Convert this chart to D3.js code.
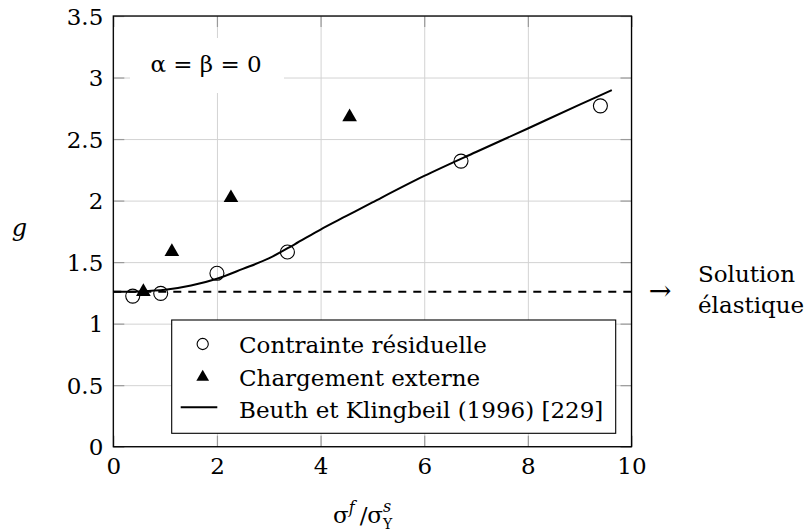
<!DOCTYPE html>
<html>
<head>
<meta charset="utf-8">
<script src="https://cdn.jsdelivr.net/npm/d3@7"></script>
<style>
  body { margin: 0; background: #fff; }
  svg { display: block; }
  text { font-family: "DejaVu Serif", serif; fill: #000; }
</style>
</head>
<body>
<svg id="chart" width="809" height="531"></svg>
<script>
// Axis ticks
const xTicks = [0, 2, 4, 6, 8, 10];
const yTicks = [0, 0.5, 1, 1.5, 2, 2.5, 3, 3.5];

// Residual stress measurements (circles)
const residualX = [0.375, 0.915, 2.0, 3.36, 6.71, 9.40];
const residualG = [1.224, 1.246, 1.409, 1.582, 2.321, 2.770];

// External loading measurements (triangles)
const externalX = [0.58, 1.13, 2.27, 4.56];
const externalG = [1.26, 1.584, 2.022, 2.68];

// Beuth & Klingbeil (1996) curve
const beuthX = [0, 0.5, 1, 1.5, 2, 2.5, 3, 3.5, 4, 4.5, 5, 6, 7, 8, 9, 9.62];
const beuthG = [1.259, 1.262, 1.275, 1.31, 1.365, 1.445, 1.53, 1.645, 1.765, 1.875, 1.985, 2.20, 2.395, 2.586, 2.78, 2.898];

// Elastic solution level
const elasticG = 1.259;

const legendLabels = ["Contrainte résiduelle", "Chargement externe", "Beuth et Klingbeil (1996) [229]"];

const svg = d3.select("#chart");
const plotL = 113.3, plotR = 631.5, plotT = 16, plotB = 446.7;
const W = plotR - plotL, H = plotB - plotT;

const x = d3.scaleLinear().domain([0, 10]).range([plotL, plotR]);
const y = d3.scaleLinear().domain([0, 3.5]).range([plotB, plotT]);

const gridColor = "#d3d3d3", tickColor = "#9a9a9a", tickLen = 11;

// Grid
svg.append("g").attr("transform", `translate(0,${plotB})`)
  .call(d3.axisBottom(x).tickValues(xTicks).tickSize(-H).tickFormat(""))
  .call(g => g.select(".domain").remove())
  .call(g => g.selectAll("line").attr("stroke", gridColor).attr("stroke-width", 1));
svg.append("g").attr("transform", `translate(${plotL},0)`)
  .call(d3.axisLeft(y).tickValues(yTicks).tickSize(-W).tickFormat(""))
  .call(g => g.select(".domain").remove())
  .call(g => g.selectAll("line").attr("stroke", gridColor).attr("stroke-width", 1));

// White box behind the parameter annotation
svg.append("rect").attr("x", 130).attr("y", 38).attr("width", 154).attr("height", 55).attr("fill", "#fff");
svg.append("text").attr("x", 206).attr("y", 72).attr("text-anchor", "middle")
  .style("font-size", "23px").text("α = β = 0");

// Inward ticks on all four sides
function ticks(axisFn, scale, vals, tr) {
  svg.append("g").attr("transform", tr)
    .call(axisFn(scale).tickValues(vals).tickSize(-tickLen).tickFormat(""))
    .call(g => g.select(".domain").remove())
    .call(g => g.selectAll("line").attr("stroke", tickColor).attr("stroke-width", 1.2));
}
ticks(d3.axisBottom, x, xTicks, `translate(0,${plotB})`);
ticks(d3.axisTop, x, xTicks, `translate(0,${plotT})`);
ticks(d3.axisLeft, y, yTicks, `translate(${plotL},0)`);
ticks(d3.axisRight, y, yTicks, `translate(${plotR},0)`);

// Tick labels
const fmt = d => String(d);
svg.append("g").attr("transform", `translate(0,${plotB})`)
  .call(d3.axisBottom(x).tickValues(xTicks).tickSize(0).tickPadding(0).tickFormat(fmt))
  .call(g => g.select(".domain").remove())
  .call(g => g.selectAll("text").attr("y", 27.5).attr("dy", null)
    .style("font-family", "'DejaVu Serif', serif").style("font-size", "23px").attr("fill", "#000"));
svg.append("g").attr("transform", `translate(${plotL},0)`)
  .call(d3.axisLeft(y).tickValues(yTicks).tickSize(0).tickPadding(0).tickFormat(fmt))
  .call(g => g.select(".domain").remove())
  .call(g => g.selectAll("text").attr("x", -10).attr("dy", "0.36em")
    .style("font-family", "'DejaVu Serif', serif").style("font-size", "23px").attr("fill", "#000"));

// Plot frame
svg.append("rect").attr("x", plotL).attr("y", plotT).attr("width", W).attr("height", H)
  .attr("fill", "none").attr("stroke", "#000").attr("stroke-width", 1.3);

// Elastic solution (dashed)
svg.append("line")
  .attr("x1", x(0)).attr("x2", x(10)).attr("y1", y(elasticG)).attr("y2", y(elasticG))
  .attr("stroke", "#000").attr("stroke-width", 1.8).attr("stroke-dasharray", "8,7");

// Residual stress circles
svg.append("g").selectAll("circle").data(residualX).join("circle")
  .attr("cx", d => x(d)).attr("cy", (d, i) => y(residualG[i])).attr("r", 7)
  .attr("fill", "none").attr("stroke", "#000").attr("stroke-width", 1.1);

// External loading triangles
const tri = d3.symbol(d3.symbolTriangle, 93);
svg.append("g").selectAll("path").data(externalX).join("path")
  .attr("transform", (d, i) => `translate(${x(d)},${y(externalG[i])})`)
  .attr("d", tri).attr("fill", "#000");

// Beuth & Klingbeil curve
const pts = beuthX.map((d, i) => [d, beuthG[i]]);
svg.append("path").datum(pts)
  .attr("d", d3.line().x(d => x(d[0])).y(d => y(d[1])).curve(d3.curveCatmullRom.alpha(0.5)))
  .attr("fill", "none").attr("stroke", "#000").attr("stroke-width", 2);

// Legend
const lg = svg.append("g");
lg.append("rect").attr("x", 171.7).attr("y", 320).attr("width", 444).attr("height", 113.3)
  .attr("fill", "#fff").attr("stroke", "#000").attr("stroke-width", 1.1);
const rowY = [344, 377, 407.3];
const baseY = [353.3, 386, 418.3];
lg.append("circle").attr("cx", 202.7).attr("cy", rowY[0]).attr("r", 5.6)
  .attr("fill", "none").attr("stroke", "#000").attr("stroke-width", 1.1);
lg.append("path").attr("transform", `translate(202.7,${rowY[1]})`)
  .attr("d", d3.symbol(d3.symbolTriangle, 70)).attr("fill", "#000");
lg.append("line").attr("x1", 180.7).attr("x2", 217.3).attr("y1", rowY[2]).attr("y2", rowY[2])
  .attr("stroke", "#000").attr("stroke-width", 2);
lg.selectAll("text.lab").data(legendLabels).join("text").attr("class", "lab")
  .attr("x", 239).attr("y", (d, i) => baseY[i]).style("font-size", "23px").text(d => d);

// Elastic solution annotation
svg.append("text").attr("x", 660).attr("y", 300).attr("text-anchor", "middle")
  .style("font-size", "27px").text("→");
svg.append("text").attr("x", 698).attr("y", 282).style("font-size", "23px").text("Solution");
svg.append("text").attr("x", 698).attr("y", 313).style("font-size", "23px").text("élastique");

// Y-axis label
svg.append("text").attr("x", 19.5).attr("y", 236).attr("text-anchor", "middle")
  .style("font-size", "24px").style("font-style", "italic").text("g");

// X-axis label: σ^f / σ^s_Y
const xl = svg.append("text").attr("x", 333).attr("y", 523).style("font-size", "23px");
xl.append("tspan").text("σ");
xl.append("tspan").attr("dy", -10).style("font-size", "16px").style("font-style", "italic").text("f");
xl.append("tspan").attr("dy", 10).attr("dx", 5).text("/σ");
const sup = xl.append("tspan").attr("dy", -11).style("font-size", "16px").style("font-style", "italic").text("s");
const sw = sup.node().getComputedTextLength();
xl.append("tspan").attr("dy", 17).attr("dx", -sw).style("font-size", "14px").text("Y");
</script>
</body>
</html>
